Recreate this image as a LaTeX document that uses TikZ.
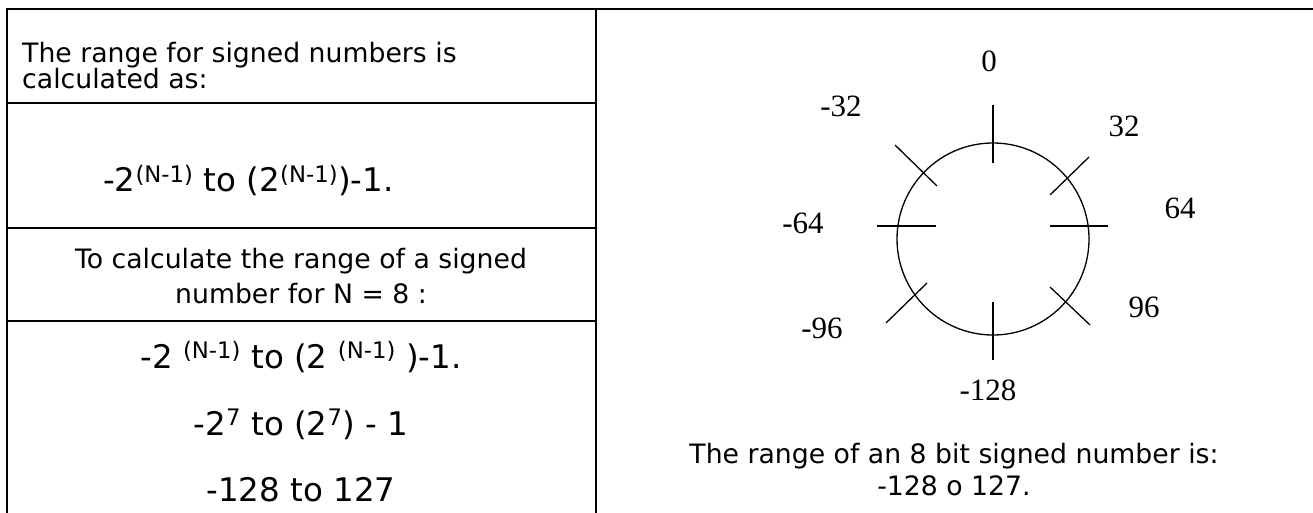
\documentclass[tikz,border=0pt]{standalone}
\usepackage{fontspec}
\setmainfont{DejaVu Sans}
\newfontfamily\serifnum{Liberation Serif}
\usetikzlibrary{positioning}
\newcommand\txtsmall{\fontsize{26.7}{30}\selectfont}
\newcommand\txtbig{\fontsize{32.5}{38}\selectfont}
\newcommand\numfont{\serifnum\fontsize{31}{35}\selectfont}

\begin{document}
\begin{tikzpicture}[x=1pt, y=-1pt,
   gridline/.style={line width=2pt, line cap=rect},
   tick/.style={line width=1.3pt},
   lefttext/.style={font=\txtsmall, inner sep=0pt, anchor=base},
   bigtext/.style={font=\txtbig, inner sep=0pt, anchor=base},
   dialnum/.style={font=\numfont, inner sep=0pt, anchor=base}]
  \useasboundingbox (0,0) rectangle (1313,513);
  % table lines
  \coordinate (tl) at (7,9);
  \coordinate (tr) at (1313,9);
  \coordinate (bl) at (7,513);
  \coordinate (mt) at (596,9);
  \coordinate (mb) at (596,513);
  \draw[gridline] (tl) -- (tr);
  \draw[gridline] (tl) -- (bl);
  \draw[gridline] (mt) -- (mb);
  \foreach \y in {103,228,321}
    \draw[gridline] (7,\y) -- (596,\y);

  % left column
  \node[lefttext, anchor=base west] (calcA) at (22,63) {The range for signed numbers is};
  \node[lefttext, anchor=base west] (calcB) at (22,89) {calculated as:};
  \node[bigtext, anchor=base west] (formA) at (103,192)
    {-2\textsuperscript{(N-1)} to (2\textsuperscript{(N-1)})-1.};
  \node[lefttext] (stepA) at (301,268) {To calculate the range of a signed};
  \node[lefttext] (stepB) at (301,303) {number for N = 8 :};
  \node[bigtext] (formB) at (301,368)
    {-2 \textsuperscript{(N-1)} to (2 \textsuperscript{(N-1)} )-1.};
  \node[bigtext] (formC) at (301,435) {-2\textsuperscript{7} to (2\textsuperscript{7}) - 1};
  \node[bigtext] (formD) at (301,501) {-128 to 127};

  % right column: the dial
  \node[draw, circle, line width=1.3pt, minimum size=192pt, inner sep=0pt,
        anchor=center] (dial) at (993,239) {};
  \foreach \xa/\ya/\xb/\yb in {993/105/993/163, 895/145/937/186,
      1089/157/1050/195, 877/226/936/226, 1050/226/1108/226,
      927/283/886/323, 1050/287/1090/325, 993/302/993/360}
    \draw[tick] (\xa,\ya) -- (\xb,\yb);
  \node[dialnum] (n0)    at (989,72)   {0};
  \node[dialnum] (nm32)  at (841,117)  {-32};
  \node[dialnum] (n32)   at (1124,137) {32};
  \node[dialnum] (nm64)  at (803,233)  {-64};
  \node[dialnum] (n64)   at (1180,218) {64};
  \node[dialnum] (nm96)  at (822,338)  {-96};
  \node[dialnum] (n96)   at (1144,317) {96};
  \node[dialnum] (nm128) at (988,400)  {-128};

  \node[lefttext] (sumA) at (954,463) {The range of an 8 bit signed number is:};
  \node[lefttext] (sumB) at (954,495) {-128 o 127.};
\end{tikzpicture}
\end{document}
